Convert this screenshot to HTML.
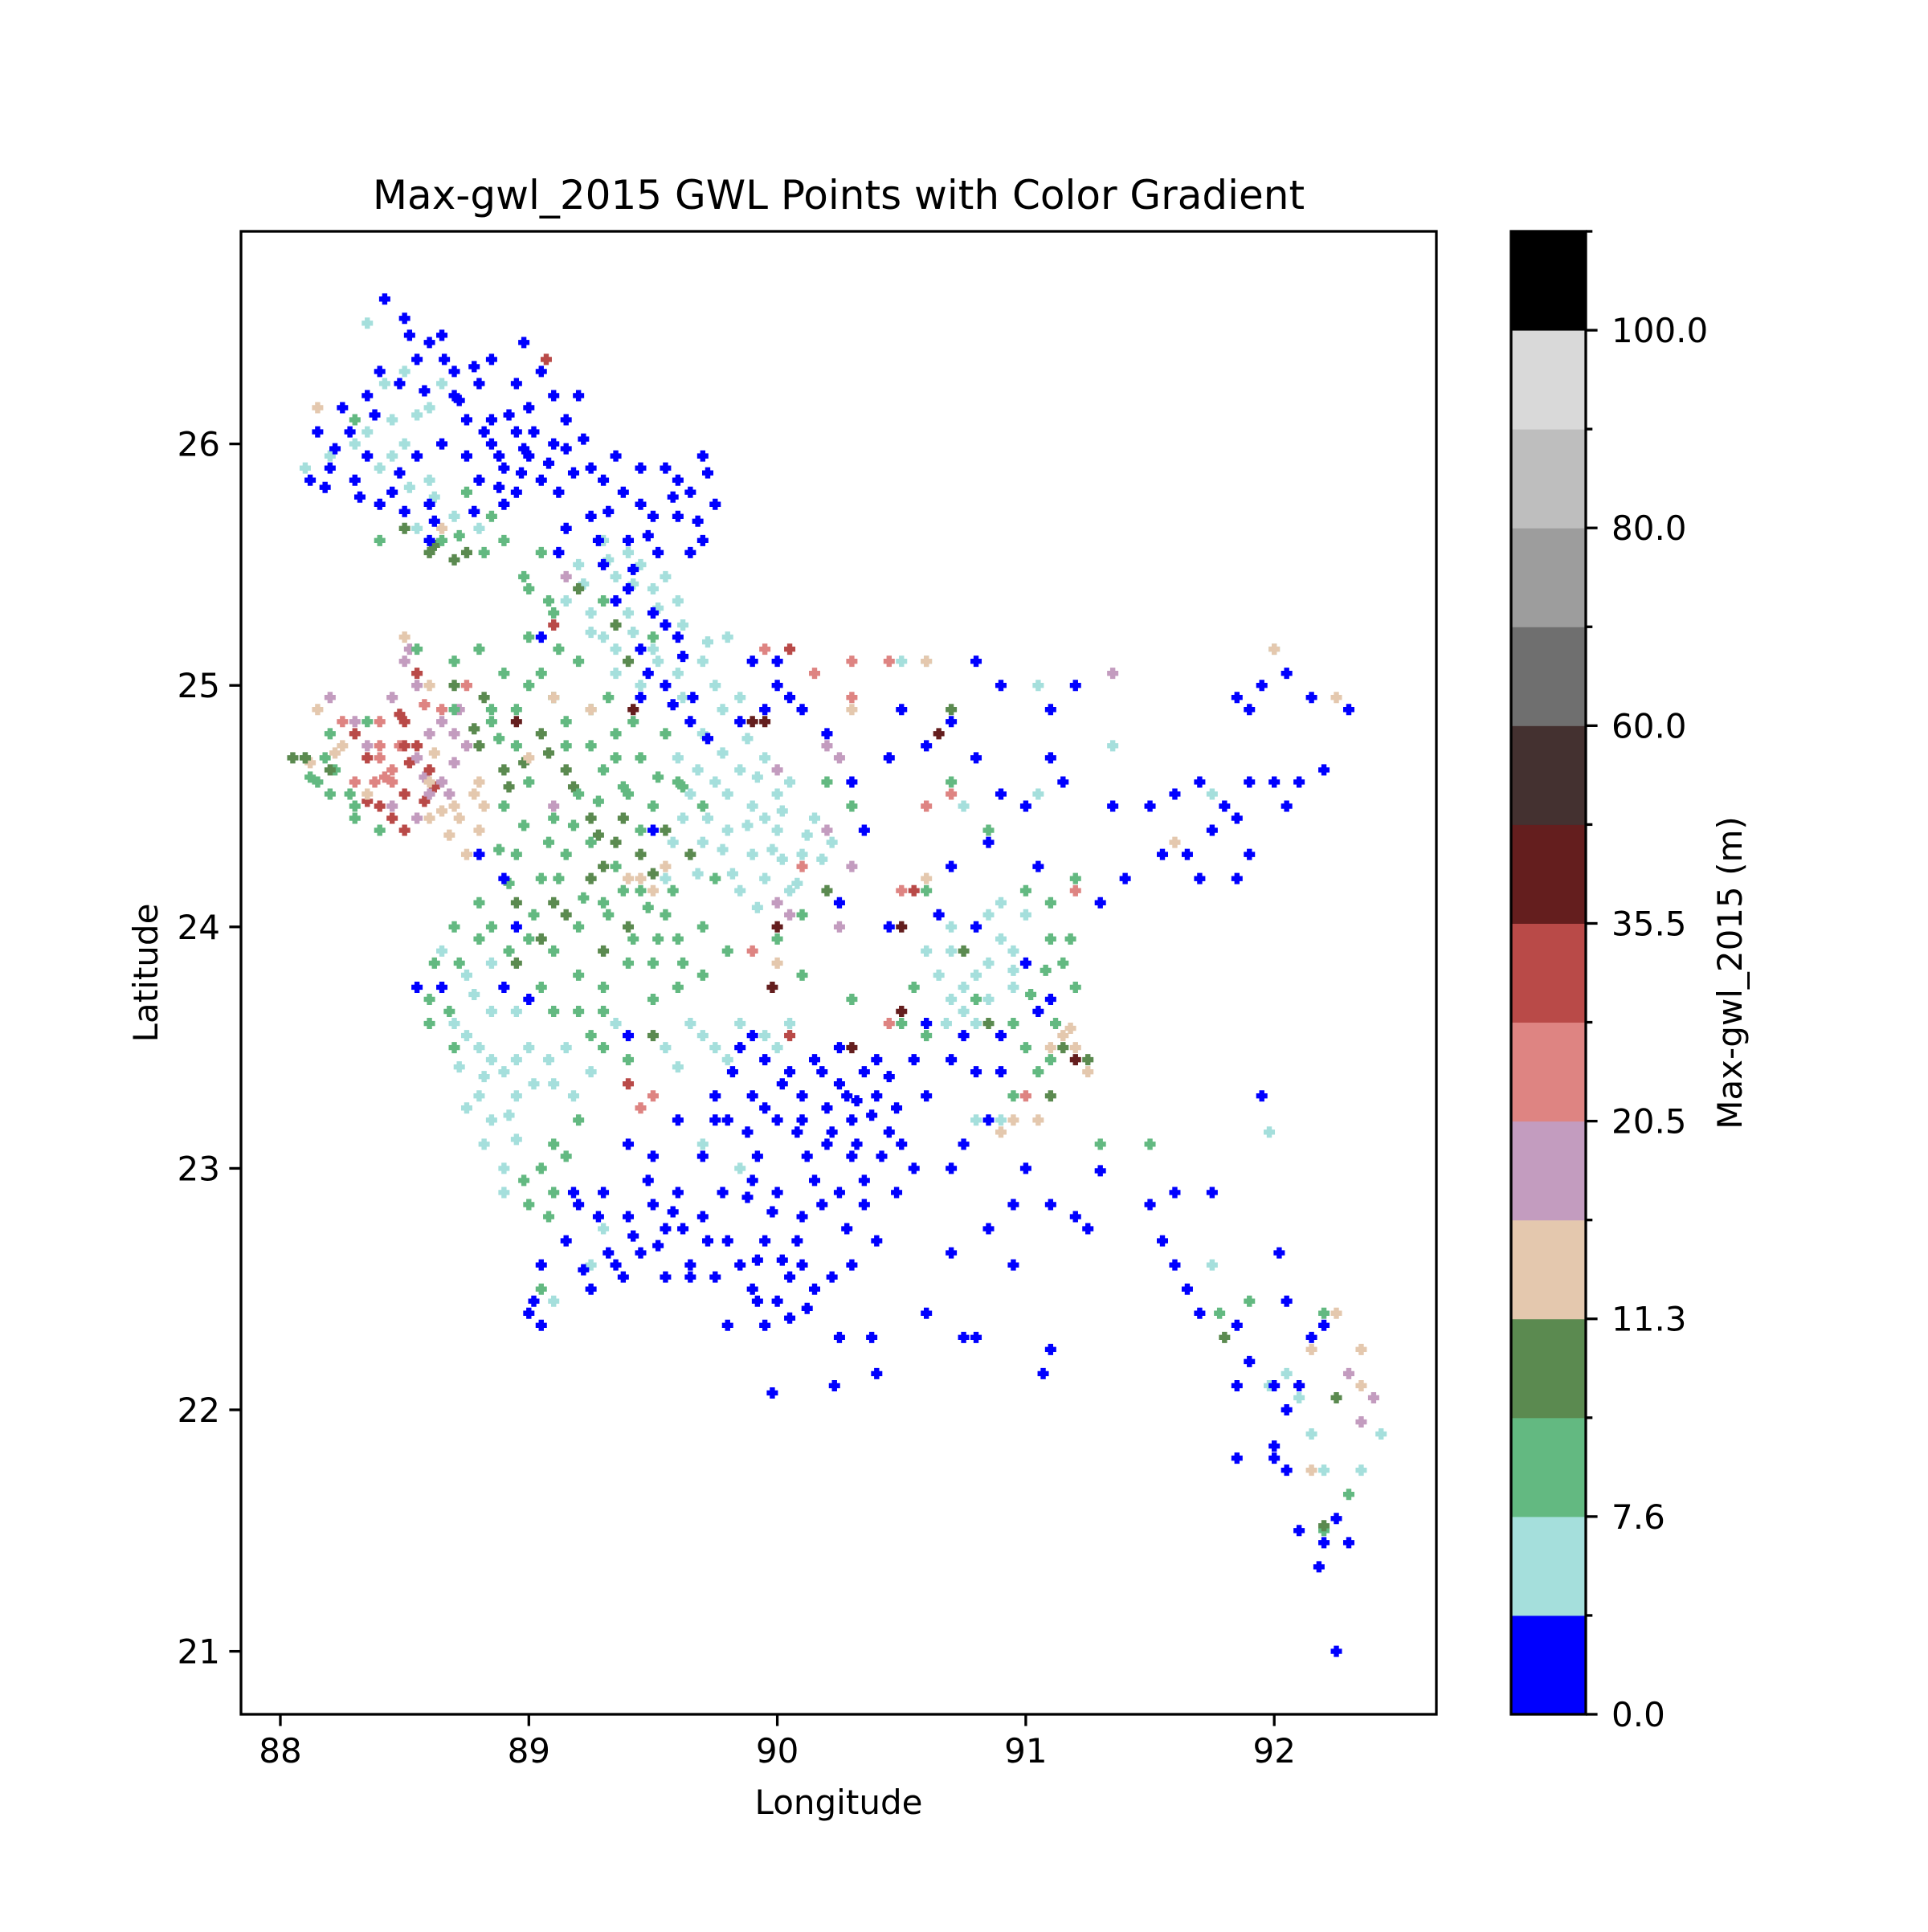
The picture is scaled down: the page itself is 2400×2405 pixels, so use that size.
<!DOCTYPE html>
<html><head><meta charset="utf-8"><style>
html,body{margin:0;padding:0;background:#fff}
svg text{font-family:"DejaVu Sans","Liberation Sans",sans-serif;fill:#000}
</style></head><body>
<svg id="chart" width="2400" height="2400" viewBox="0 0 2400 2400" xmlns="http://www.w3.org/2000/svg">
<rect width="2400" height="2400" fill="#fff"/>
<text x="1044" y="260" font-size="50" text-anchor="middle">Max-gwl_2015 GWL Points with Color Gradient</text>
<g id="points"></g>
<rect x="300" y="288" width="1488" height="1846" fill="none" stroke="#000" stroke-width="3.3"/>
<g id="xaxis"></g>
<g id="yaxis"></g>
<text x="1044" y="2258" font-size="42" text-anchor="middle">Longitude</text>
<text x="0" y="0" font-size="42" text-anchor="middle" transform="translate(196,1211) rotate(-90)">Latitude</text>
<g id="cbar"></g>
<text x="0" y="0" font-size="42" text-anchor="middle" transform="translate(2168,1211) rotate(-90)">Max-gwl_2015 (m)</text>
</svg>
<script>
const xTicks=[88,89,90,91,92];
const yTicks=[21,22,23,24,25,26];
const bandBounds=[0,3.8,7.6,9.45,11.3,15.9,20.5,28,35.5,47.75,60,70,80,90,100,110];
const bandColors=["#0000ff","#a5dfdc","#63b981","#5b8a50","#e4c8ae","#c39cbf","#de8482","#b94a48","#641e1e","#443130","#6f6f6f","#9d9d9d","#bebebe","#d9d9d9","#000000"];
const cbarTickLabels=["0.0","7.6","11.3","20.5","35.5","60.0","80.0","100.0"];
const blueLon=[88.42,88.5,88.6,88.65,88.4,88.55,88.7,88.8,88.35,88.25,88.15,88.2,88.12,88.3,88.4,88.5,88.6,88.7,88.75,88.85,88.95,89.0,88.9,88.8,88.95,89.05,89.1,89.15,89.2,89.1,89.0,88.95,88.85,88.98,89.25,89.3,89.35,89.45,89.55,89.6,89.7,89.65,89.75,89.6,89.7,89.65,89.5,89.4,89.45,89.25,89.15,89.3,89.4,89.5,89.45,89.6,89.55,89.65,89.05,88.9,88.6,88.45,88.35,88.55,88.65,88.75,88.85,
89.85,89.95,90.05,89.9,89.8,90.0,90.1,90.2,90.3,90.25,90.35,90.4,90.45,90.5,90.3,90.2,90.15,90.25,90.35,90.4,90.3,90.1,90.0,89.9,89.95,89.85,89.9,90.0,90.05,90.1,90.15,89.95,89.8,89.7,89.6,89.5,89.4,89.3,89.2,89.35,89.45,89.55,89.65,89.75,89.25,89.15,89.05,89.0,89.05,89.4,89.55,89.7,89.75,89.6,89.5,90.6,90.55,90.4,90.6,89.8,89.98,90.23,90.4,90.25,90.38,90.6,90.7,90.85,90.95,90.75,90.8,91.1,91.07,90.7,90.75,90.85,91.0,91.1,91.2,91.25,91.3,90.95,90.9,90.8,90.7,
91.5,91.55,91.6,91.65,91.7,91.6,91.75,91.85,91.9,91.85,92.0,92.05,92.1,92.0,92.05,92.0,91.85,92.1,92.2,92.25,92.3,92.18,92.25,92.05,92.15,92.02,91.95,92.2,
90.5,90.6,90.7,90.45,90.9,91.0,90.85,90.8,91.1,91.15,91.05,91.3,91.35,91.5,91.6,91.7,91.65,91.7,91.75,91.85,91.9,91.85,91.8,91.9,91.55,91.4,92.0,92.1,92.2,92.05,92.15,91.85,91.9,91.95,92.05,92.3,91.1,91.2,90.9,90.8,90.35,90.3,90.2,90.1,90.0,89.95,89.9,90.0,90.05,89.85,90.25,90.45,90.65,90.7,90.8,91.0,91.05,91.1,90.9,90.75,88.9,88.8,88.95,89.5,89.4,88.55,88.65,88.9,89.0,
88.82,88.88,88.92,88.97,89.02,89.08,89.12,89.18,89.22,89.05,88.78,88.72,88.58,88.48,88.38,88.28,88.22,88.18,88.32,88.48,88.62,88.78,88.88,89.32,89.38,89.48,89.58,89.68,89.72,89.52,89.42,89.35,89.55,89.62,89.48,89.58,89.45,89.72,89.66,89.28,89.12,88.98,89.15,88.66,88.52,
89.82,89.88,89.92,90.02,90.08,90.12,90.18,90.22,90.28,90.32,90.38,90.42,90.48,90.35,90.28,90.18,90.08,89.98,89.88,89.78,89.72,89.62,89.52,89.42,89.32,89.22,89.18,89.28,89.48,89.58,89.92,90.02,90.12,90.05,89.92,90.22,90.48,90.55,90.45,90.15,89.95,89.65,89.38,89.75,89.9,90.25,90.1,90.32,89.02];
const blueLat=[26.6,26.52,26.42,26.45,26.3,26.35,26.3,26.25,26.2,26.15,26.05,25.9,25.85,25.85,25.75,25.72,25.75,26.2,26.1,26.1,26.05,25.95,25.9,25.85,25.8,25.85,26.0,26.1,26.2,26.2,26.15,26.25,26.35,26.42,25.9,25.85,25.95,25.9,25.9,25.85,25.95,25.8,25.75,25.7,25.6,25.55,25.7,25.6,25.75,25.7,25.65,25.5,25.4,25.3,25.15,25.2,25.0,24.85,25.2,25.75,25.6,25.8,25.95,25.95,26.0,25.95,26.0,
23.5,23.45,23.4,23.3,23.2,23.2,23.3,23.25,23.2,23.35,23.4,23.3,23.15,23.1,23.05,23.1,22.95,22.9,22.85,22.7,22.6,22.8,22.9,22.95,22.7,22.6,22.5,22.45,22.55,22.6,22.5,22.35,22.7,22.8,22.9,22.85,22.8,22.9,22.85,22.6,22.65,22.55,22.6,22.55,22.5,22.7,22.6,22.4,22.35,23.1,22.75,23.05,23.3,23.2,23.05,23.3,23.0,23.45,23.6,22.35,22.07,22.1,22.15,22.3,22.3,22.4,22.65,22.75,22.6,22.3,22.3,22.25,22.15,23.0,23.1,23.2,23.0,22.85,22.8,22.75,22.99,22.85,23.4,23.4,23.45,
22.85,22.7,22.6,22.5,22.4,22.9,22.9,22.35,22.2,22.1,22.1,22.0,22.1,21.85,21.75,21.8,21.8,21.5,21.45,21.55,21.45,21.35,21.0,22.45,22.3,22.65,23.3,22.35,
24.9,24.75,24.85,24.7,24.55,24.5,24.35,24.7,24.7,24.6,24.25,24.1,24.5,24.5,24.55,24.6,24.3,24.2,24.4,24.45,24.3,24.2,24.5,24.6,24.3,24.2,24.6,24.6,24.65,24.5,24.95,24.95,24.9,25.0,25.05,24.9,24.9,25.0,25.0,25.1,24.4,24.6,24.8,24.9,25.0,24.9,25.1,25.1,24.95,24.85,24.1,24.0,24.05,24.25,24.0,23.85,23.65,23.7,23.55,23.55,24.2,24.3,24.0,24.4,23.55,23.75,23.75,23.75,23.7,
26.05,25.95,26.12,25.88,26.05,25.92,25.8,25.88,26.02,26.3,26.32,26.18,26.22,26.25,26.12,26.05,25.98,25.82,25.78,25.88,25.68,25.72,25.82,25.72,25.8,25.62,25.78,25.68,25.88,25.55,25.48,25.35,25.25,25.12,25.05,24.92,24.95,24.78,24.95,25.6,25.55,25.98,25.98,26.35,26.45,
23.4,23.15,23.05,23.35,23.15,23.05,23.4,23.15,23.3,23.1,23.22,23.05,23.25,22.95,22.75,22.85,22.7,22.82,22.88,22.9,22.7,22.75,22.68,22.72,22.65,22.58,22.9,22.8,22.95,22.82,22.62,22.62,22.42,22.38,22.45,22.55,22.9,23.45,23.38,23.45,23.25,22.55,22.55,23.2,23.55,23.5,23.2,23.28,22.45];
const otherLon=[88.35,88.5,88.45,88.6,88.5,88.4,88.6,88.7,88.8,88.55,88.65,88.2,88.3,88.1,89.3,89.35,89.45,89.55,89.6,89.5,89.4,89.3,89.35,89.45,89.6,89.7,89.8,89.75,89.85,89.7,89.6,89.65,89.75,89.85,89.95,90.05,89.9,89.8,89.7,89.9,90.0,90.1,89.95,89.85,90.05,90.15,90.0,89.55,89.5,89.4,89.2,89.15,89.25,88.7,88.8,88.9,88.8,88.75,88.85,88.95,89.0,88.65,88.75,88.85,89.1,89.15,89.25,88.9,88.9,89.3,89.25,89.1,89.55,89.65,89.75,89.85,89.95,90.05,89.85,89.7,90.65,90.75,90.85,90.95,90.8,90.9,90.7,90.75,90.85,90.95,91.0,90.6,90.8,90.9,91.98,92.05,92.1,91.75,92.2,92.35,92.43,92.15,91.98,92.0,91.05,90.6,90.75,90.5,91.35,91.05,91.75,
89.0,88.9,89.0,89.1,89.2,89.25,89.15,89.3,89.2,89.1,89.0,88.9,88.95,89.05,89.15,89.25,89.35,89.45,89.55,89.5,89.4,89.45,89.55,89.35,89.45,89.3,89.2,89.1,89.0,88.85,88.8,88.7,88.8,89.2,89.3,89.4,89.5,89.6,89.7,89.6,89.7,89.8,89.5,88.6,88.6,88.7,89.1,89.05,89.0,89.1,89.2,89.3,89.4,88.55,88.7,88.8,88.85,88.7,89.0,89.1,89.05,88.9,88.85,88.75,88.65,88.4,88.3,89.3,89.5,89.6,89.7,89.75,90.0,90.1,90.2,90.3,90.1,90.3,90.5,90.55,90.6,91.0,91.1,91.2,91.15,91.1,91.2,90.95,91.0,91.05,90.95,91.1,91.3,91.5,88.1,88.15,88.2,88.3,88.4,88.3,88.2,89.05,88.35,91.78,91.9,92.2,92.3,92.2,90.7,90.85,90.6,
88.85,88.95,89.05,88.9,89.15,89.25,89.35,89.4,89.3,89.25,89.45,88.95,89.1,88.6,88.5,88.75,89.2,89.35,89.4,88.7,88.8,89.55,89.65,90.7,90.75,90.85,91.15,91.25,91.1,91.8,92.25,92.2,89.5,90.2,
88.1,88.2,88.15,88.25,88.35,88.6,88.7,88.8,88.75,88.6,88.8,89.0,88.15,88.65,89.4,89.5,89.55,90.3,91.15,91.1,91.2,91.25,90.95,90.9,92.25,92.0,92.25,92.35,92.15,92.35,92.15,90.6,90.0,90.6,91.6,89.1,89.25,
88.5,88.6,88.7,88.75,88.65,88.55,88.65,88.6,88.55,88.45,88.3,88.2,88.35,89.1,90.0,90.05,90.2,90.25,90.3,90.2,90.25,90.0,91.35,92.4,92.35,92.3,89.15,
88.55,88.45,88.4,88.3,88.45,88.65,88.75,90.1,90.6,90.7,90.5,89.95,90.15,90.3,90.45,90.3,89.5,89.45,91.0,91.2,89.9,90.45,92.1,
88.4,88.45,88.5,88.6,88.55,88.35,88.5,88.4,88.3,88.5,88.55,89.1,89.4,90.05,90.05,90.55,
88.5,89.07,89.9,89.95,90.0,89.98,90.3,90.5,90.65,91.2,90.5,89.42,88.95];
const otherLat=[26.5,26.3,26.1,26.15,26.0,25.9,25.85,25.7,25.65,25.65,26.25,25.95,26.0,25.9,25.6,25.45,25.5,25.45,25.35,25.4,25.3,25.2,25.05,25.0,25.05,25.1,25.2,25.0,24.95,24.8,24.7,24.55,24.6,24.65,24.7,24.6,24.5,24.4,24.35,24.3,24.4,24.3,24.2,24.15,24.15,24.45,24.55,24.2,25.15,25.55,25.5,25.35,25.3,23.6,23.5,23.4,23.3,23.25,23.2,23.3,23.5,23.9,23.8,23.85,23.35,23.5,23.4,23.0,22.9,22.75,22.6,22.45,23.5,23.6,23.5,23.6,23.55,23.6,23.0,23.1,23.8,23.75,23.85,23.9,24.0,24.1,24.0,23.65,23.7,23.75,24.05,23.9,23.2,23.2,22.1,22.15,22.05,22.6,21.75,21.75,21.9,21.9,23.15,25.15,25.0,25.1,24.5,25.1,24.75,24.55,24.55,
25.2,25.05,25.0,24.95,25.1,24.9,24.75,24.65,24.55,24.45,24.6,24.5,24.3,24.2,24.3,24.35,24.25,24.15,24.05,24.5,24.55,24.7,24.8,24.8,24.4,24.1,24.0,23.9,23.95,24.0,24.1,24.0,23.95,23.8,23.75,23.85,23.7,23.75,23.8,23.95,24.0,23.9,23.85,23.7,23.6,23.5,23.1,23.0,22.85,22.9,23.2,23.5,23.45,25.15,25.1,25.15,24.9,24.9,25.4,25.3,25.55,25.6,25.7,25.8,25.6,25.6,26.1,25.35,25.2,24.6,24.5,24.2,23.95,24.05,24.6,24.5,23.8,23.7,23.6,23.75,24.15,24.15,24.1,24.2,23.85,23.95,23.75,23.6,23.5,23.4,23.3,23.45,23.1,23.1,24.7,24.6,24.55,24.5,24.4,24.45,24.8,22.5,24.85,22.4,22.45,22.4,21.65,21.5,24.6,24.4,23.55,
24.85,24.75,24.8,24.65,24.65,24.45,24.35,24.0,23.9,24.2,24.3,24.1,24.1,25.55,25.65,25.55,25.4,25.25,25.1,25.0,24.75,24.4,24.3,24.9,23.9,23.6,23.5,23.45,23.3,22.3,22.05,21.52,23.55,24.15,
24.7,24.65,24.9,24.75,24.55,24.45,24.5,24.4,24.3,24.6,24.6,24.7,26.15,25.65,24.2,24.15,24.25,24.9,23.55,23.5,23.5,23.4,23.2,23.15,24.95,25.15,22.4,22.25,22.25,22.1,21.75,24.2,23.85,25.1,24.35,24.95,24.9,
25.2,25.0,24.8,24.75,24.85,24.7,24.6,24.55,24.45,24.5,24.85,24.95,24.75,24.5,24.1,24.05,24.4,24.0,24.25,24.75,24.7,24.65,25.05,22.05,21.95,22.15,25.45,
25.0,24.95,24.75,24.6,24.65,24.9,25.0,24.25,24.5,24.55,24.15,25.15,25.05,25.1,25.1,24.95,23.3,23.25,23.3,24.15,23.9,23.6,22.1,
24.7,24.6,24.55,24.65,24.75,24.7,24.85,24.5,24.8,24.4,25.05,25.25,23.35,25.15,23.55,24.15,
24.75,26.35,24.85,24.85,24.0,23.75,23.5,24.0,24.8,23.45,23.65,24.9,24.85];
const otherVal=[].concat(Array(111).fill(5),Array(113).fill(9),Array(34).fill(10),Array(37).fill(13),Array(27).fill(17),Array(23).fill(24),Array(16).fill(30),Array(13).fill(40));
const blueVal=Array(blueLon.length).fill(2);
const extraLon=[89.32,89.42,89.52,89.62,89.72,89.42,89.52,89.62,89.78,89.88,89.78,89.68,89.8,89.92,90.02,90.12,90.18,90.08,89.98,89.88,89.78,89.68,89.82,89.92,90.02,89.62,89.58,89.72,89.95,90.22,89.22,89.35,89.25,88.75,88.85,88.95,88.82,88.72,88.92,89.02,89.08,89.18,88.85,88.95,88.78,88.82,88.95,89.35,89.6,89.7,89.8,90.0,90.7,90.8,90.9,90.7,90.85,90.95,90.68,90.8,88.42,88.55,88.35,88.45,88.62,88.52,
88.95,89.05,89.15,89.25,89.35,89.38,89.28,89.18,89.08,88.98,88.88,88.92,89.02,89.12,89.22,89.32,89.42,89.52,89.62,89.48,89.38,89.58,89.62,89.52,89.42,89.32,88.72,88.62,88.68,89.1,89.2,89.25,89.05,88.92,89.3,89.15,89.08,88.98,89.12,89.08,88.98,88.82,88.72,88.22,88.28,88.18,88.12,90.8,91.02,91.12,91.08,91.18,
88.88,88.98,89.08,88.92,89.18,89.28,89.38,89.15,89.05,88.95,88.62,88.7,88.82,88.78,89.3,89.5,
88.05,88.12,88.22,88.65,88.72,88.78,88.82,88.68,91.18,91.05,89.45,
88.62,88.7,88.58,88.68,88.52,88.72,88.6,
88.5,88.58,88.4,88.38,88.25,88.48,
88.42,88.52,88.58,88.45,88.35,88.48,88.62];
const extraLat=[25.52,25.42,25.32,25.25,25.18,25.22,25.1,24.95,24.9,24.78,24.72,24.65,24.55,24.62,24.48,24.38,24.28,24.18,24.32,24.42,24.32,24.22,24.22,24.08,24.28,24.45,24.35,24.45,24.45,24.35,25.42,25.15,25.22,23.55,23.45,23.45,23.38,23.42,23.22,23.35,23.45,23.3,23.65,23.65,23.72,23.1,23.12,23.6,23.42,23.55,23.45,23.5,23.7,23.8,23.95,23.9,24.05,23.82,23.6,23.6,26.25,26.12,26.05,25.95,25.78,25.82,
24.9,25.05,24.85,24.75,24.7,24.58,24.52,24.42,24.35,24.42,24.32,24.18,24.05,24.2,24.12,24.05,23.95,23.95,23.85,24.08,24.15,24.15,24.58,24.62,24.85,24.95,23.85,23.85,23.65,23.65,23.65,23.55,23.75,23.9,23.65,23.05,22.8,22.95,25.15,25.35,25.45,25.55,25.62,24.65,24.55,24.7,24.62,23.7,23.72,23.6,23.82,23.95,
24.78,24.68,24.72,24.58,24.58,24.38,24.45,24.05,23.95,23.85,25.58,25.52,24.95,24.82,24.25,24.22,
24.7,24.68,24.72,24.48,24.45,24.55,24.5,24.38,23.58,23.2,24.2,
24.72,24.68,24.62,24.55,25.15,24.9,24.8,
25.1,24.92,24.85,24.6,24.85,24.75,
24.62,24.68,24.52,24.45,24.52,24.88,24.58];
const extraVal=[].concat(Array(66).fill(5),Array(53).fill(9),Array(16).fill(10),Array(11).fill(13),Array(7).fill(17),Array(6).fill(24),Array(7).fill(30));

const NS="http://www.w3.org/2000/svg";
const L=300,R=1788,T=288,B=2134;
const xS=v=>349+(v-88)*309.3;
const yS=v=>2055.6-(v-21)*300.6;
function colorFor(v){for(let i=0;i<bandColors.length;i++){if(v<bandBounds[i+1])return bandColors[i];}return bandColors[bandColors.length-1];}
function mk(tag,attrs,parent){const e=document.createElementNS(NS,tag);for(const k in attrs)e.setAttribute(k,attrs[k]);parent.appendChild(e);return e;}
const pg=document.getElementById('points');
function plus(x,y){const s=7,w=3.2;return `M${x-w},${y-s}h${2*w}v${s-w}h${s-w}v${2*w}h${-(s-w)}v${s-w}h${-2*w}v${-(s-w)}h${-(s-w)}v${-2*w}h${s-w}z`;}
function drawSet(lons,lats,vals){for(let i=0;i<lons.length;i++){const c=colorFor(vals[i]);const p=mk('path',{d:plus(xS(lons[i]),yS(lats[i])),fill:c},pg);

}}
drawSet(extraLon,extraLat,extraVal);
drawSet(otherLon,otherLat,otherVal);
drawSet(blueLon,blueLat,blueVal);
const xa=document.getElementById('xaxis');
xTicks.forEach(t=>{const x=xS(t);const l=mk('line',{x1:x,x2:x,y1:B,y2:B+14.6,stroke:'#000','stroke-width':3.3},xa);


const tx=mk('text',{x:x,y:B+60,'font-size':42,'text-anchor':'middle'},xa);tx.textContent=t;

});
const ya=document.getElementById('yaxis');
yTicks.forEach(t=>{const y=yS(t);const l=mk('line',{x1:L-14.6,x2:L,y1:y,y2:y,stroke:'#000','stroke-width':3.3},ya);


const tx=mk('text',{x:L-26,y:y+15,'font-size':42,'text-anchor':'end'},ya);tx.textContent=t;

});
const cb=document.getElementById('cbar');
const cx0=1881,cx1=1974,bh=(B-T)/bandColors.length;
bandColors.forEach((c,i)=>{const r=mk('rect',{x:cx0,y:B-(i+1)*bh,width:cx1-cx0,height:bh+0.5,fill:c},cb);

});
mk('rect',{x:cx0,y:T,width:cx1-cx0,height:B-T,fill:'none',stroke:'#000','stroke-width':3.3},cb);
for(let i=0;i<=bandColors.length;i++){const y=B-i*bh;const major=i%2===0&&i/2<cbarTickLabels.length;
const l=mk('line',{x1:cx1,x2:cx1+(major?14.6:8.3),y1:y,y2:y,stroke:'#000','stroke-width':3.3},cb);


if(major){const tx=mk('text',{x:cx1+32,y:y+15,'font-size':42},cb);tx.textContent=cbarTickLabels[i/2];

}}
</script>
</body></html>
